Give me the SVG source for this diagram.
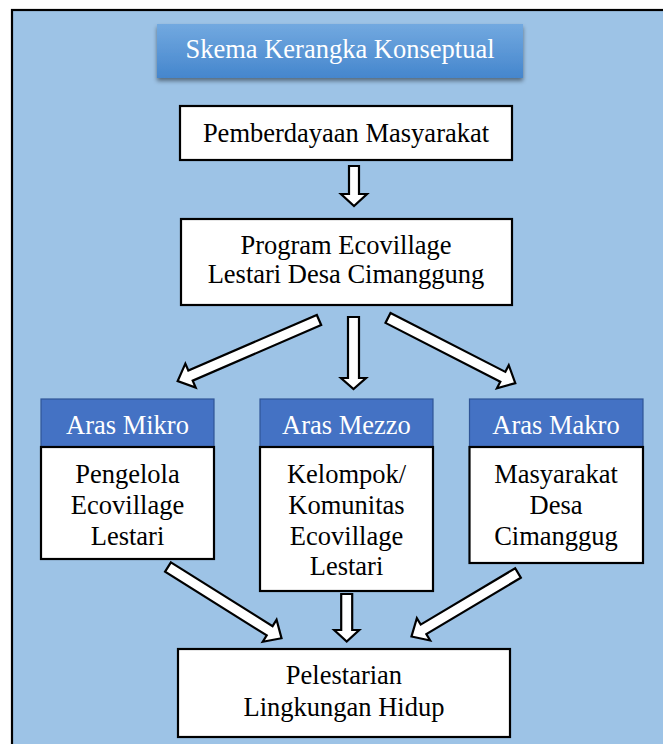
<svg xmlns="http://www.w3.org/2000/svg" width="663" height="744" viewBox="0 0 663 744">
  <defs>
    <linearGradient id="titleGrad" x1="0" y1="0" x2="0" y2="1">
      <stop offset="0" stop-color="#72a9e0"/>
      <stop offset="1" stop-color="#4586cd"/>
    </linearGradient>
    <filter id="shadow" x="-10%" y="-20%" width="120%" height="160%">
      <feDropShadow dx="0" dy="3" stdDeviation="2" flood-color="#000" flood-opacity="0.45"/>
    </filter>
  </defs>
  <style>
    .txt { font-family: "Liberation Serif", "Times New Roman", serif; font-size: 26.5px; text-anchor: middle; fill: #000; }
    .wtxt { font-family: "Liberation Serif", "Times New Roman", serif; font-size: 26.5px; text-anchor: middle; fill: #fff; }
    .box { fill: #fff; stroke: #000; stroke-width: 2.2; }
    .hdr { fill: #4472c4; stroke: #2f5597; stroke-width: 1.2; }
    .arrow { fill: #fff; stroke: #000; stroke-width: 2.2; stroke-linejoin: miter; }
  </style>

  <rect x="12" y="10" width="700" height="800" fill="#9dc3e6" stroke="#000" stroke-width="2.2"/>

  <g id="title">
    <rect x="157" y="24" width="366" height="54" fill="url(#titleGrad)" filter="url(#shadow)"/>
    <text class="wtxt" x="340" y="58">Skema Kerangka Konseptual</text>
  </g>

  <g id="pemberdayaan">
    <rect class="box" x="180" y="106" width="332" height="54"/>
    <text class="txt" x="346" y="142">Pemberdayaan Masyarakat</text>
  </g>

  <g id="program">
    <rect class="box" x="181" y="219" width="331" height="86"/>
    <text class="txt" x="346" y="254">Program Ecovillage</text>
    <text class="txt" x="346" y="283">Lestari Desa Cimanggung</text>
  </g>

  <g id="mikro">
    <rect class="hdr" x="41" y="399" width="173" height="48"/>
    <text class="wtxt" x="127.5" y="434">Aras Mikro</text>
    <rect class="box" x="41" y="447" width="173" height="112"/>
    <text class="txt" x="127.5" y="483">Pengelola</text>
    <text class="txt" x="127.5" y="514">Ecovillage</text>
    <text class="txt" x="127.5" y="545">Lestari</text>
  </g>

  <g id="mezzo">
    <rect class="hdr" x="260" y="399" width="173" height="48"/>
    <text class="wtxt" x="346.5" y="434">Aras Mezzo</text>
    <rect class="box" x="260" y="447" width="173" height="144"/>
    <text class="txt" x="346.5" y="483">Kelompok/</text>
    <text class="txt" x="346.5" y="514">Komunitas</text>
    <text class="txt" x="346.5" y="545">Ecovillage</text>
    <text class="txt" x="346.5" y="575">Lestari</text>
  </g>

  <g id="makro">
    <rect class="hdr" x="469.5" y="399" width="173.5" height="48"/>
    <text class="wtxt" x="556" y="434">Aras Makro</text>
    <rect class="box" x="469.5" y="447" width="173.5" height="116"/>
    <text class="txt" x="556" y="483">Masyarakat</text>
    <text class="txt" x="556" y="514">Desa</text>
    <text class="txt" x="556" y="545">Cimanggug</text>
  </g>

  <g id="pelestarian">
    <rect class="box" x="178" y="649" width="332" height="88"/>
    <text class="txt" x="344" y="684">Pelestarian</text>
    <text class="txt" x="344" y="716">Lingkungan Hidup</text>
  </g>

  <g id="connectors">
    <path class="arrow" transform="translate(354,166) rotate(90)" d="M0,-5 H28 V-13 L40,0 L28,13 V5 H0 Z"/>
    <path class="arrow" transform="translate(319,320) rotate(156.6)" d="M0,-5.5 H140 V-13 L154,0 L140,13 V5.5 H0 Z"/>
    <path class="arrow" transform="translate(353.5,317) rotate(90)" d="M0,-5.5 H61 V-12.5 L72,0 L61,12.5 V5.5 H0 Z"/>
    <path class="arrow" transform="translate(388,318) rotate(27.1)" d="M0,-5.5 H129 V-13 L143,0 L129,13 V5.5 H0 Z"/>
    <path class="arrow" transform="translate(168,567) rotate(32.1)" d="M0,-5.5 H120 V-13 L134,0 L120,13 V5.5 H0 Z"/>
    <path class="arrow" transform="translate(346.7,594) rotate(90)" d="M0,-5.5 H36 V-12.5 L47.5,0 L36,12.5 V5.5 H0 Z"/>
    <path class="arrow" transform="translate(518,573) rotate(149.2)" d="M0,-5.5 H110 V-13 L124,0 L110,13 V5.5 H0 Z"/>
  </g>
</svg>
